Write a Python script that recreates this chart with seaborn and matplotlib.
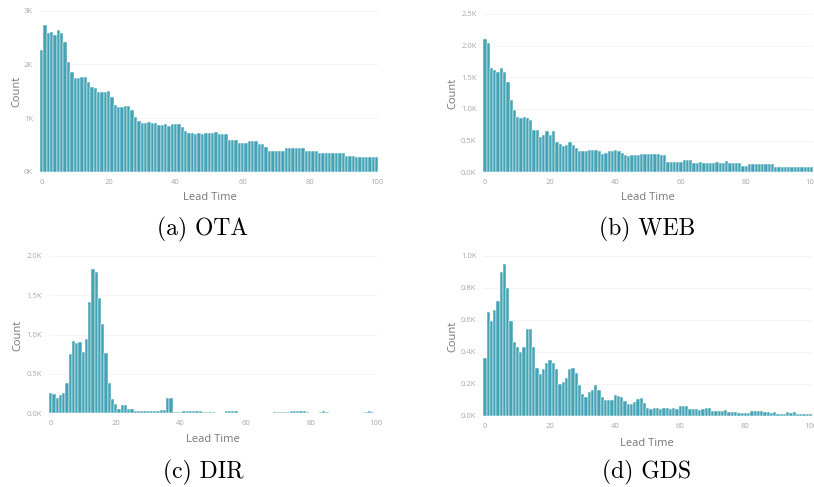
import matplotlib
matplotlib.use("Agg")
import matplotlib.pyplot as plt
import numpy as np
import pandas as pd
import seaborn as sns

# ---------------- data ----------------
lead_time = list(range(101))

ota = [2270, 2730, 2580, 2610, 2550, 2640, 2590, 2420, 2050, 1860,
       1740, 1740, 1760, 1760, 1680, 1570, 1560, 1490, 1490, 1490,
       1500, 1400, 1240, 1200, 1200, 1220, 1220, 1150, 1020, 950,
       910, 910, 920, 910, 900, 870, 870, 880, 860, 880,
       890, 880, 840, 760, 720, 720, 710, 720, 710, 720,
       720, 720, 745, 700, 700, 700, 590, 590, 590, 540,
       540, 528, 577, 580, 570, 516, 516, 466, 390, 390,
       390, 390, 391, 435, 435, 440, 435, 447, 447, 391,
       391, 391, 391, 342, 342, 342, 354, 354, 354, 354,
       354, 292, 292, 292, 268, 268, 268, 268, 280, 280, 280]

web = [2100, 2040, 1640, 1620, 1590, 1640, 1590, 1430, 1140, 980,
       870, 850, 880, 860, 830, 670, 670, 560, 590, 660,
       590, 660, 480, 450, 420, 430, 480, 430, 380, 330,
       330, 340, 360, 360, 360, 330, 290, 310, 330, 340,
       350, 330, 300, 270, 260, 270, 270, 280, 285, 290,
       290, 290, 285, 290, 280, 270, 170, 165, 170, 170,
       165, 190, 195, 190, 150, 150, 155, 150, 150, 150,
       150, 155, 150, 150, 178, 142, 142, 142, 142, 105,
       105, 126, 126, 126, 126, 126, 126, 126, 126, 90,
       90, 90, 90, 90, 90, 90, 90, 90, 90, 90, 90]

dir_ = [262, 250, 190, 230, 260, 390, 750, 920, 900, 910,
        780, 950, 1420, 1840, 1800, 1460, 1140, 770, 380, 180,
        120, 60, 100, 110, 50, 50, 35, 35, 30, 35,
        30, 30, 25, 30, 40, 40, 200, 200, 15, 20,
        20, 25, 30, 30, 30, 25, 25, 20, 20, 20,
        15, 10, 10, 10, 25, 30, 30, 25, 10, 10,
        8, 8, 8, 8, 8, 8, 10, 10, 10, 12,
        12, 12, 12, 12, 28, 28, 30, 28, 28, 20,
        10, 8, 8, 20, 25, 20, 8, 5, 5, 5,
        5, 5, 5, 5, 5, 5, 8, 22, 25, 20, 10]

gds = [360, 650, 590, 660, 720, 900, 950, 800, 590, 460,
       430, 400, 430, 540, 540, 430, 300, 260, 290, 330,
       350, 330, 290, 200, 210, 235, 290, 300, 270, 190,
       135, 120, 150, 160, 190, 160, 120, 100, 100, 100,
       130, 125, 120, 90, 75, 75, 88, 105, 110, 78,
       50, 45, 46, 48, 44, 46, 47, 45, 50, 45,
       62, 60, 58, 40, 42, 40, 38, 40, 46, 46,
       32, 30, 31, 30, 33, 25, 26, 24, 20, 19,
       20, 19, 29, 30, 28, 29, 21, 22, 20, 21,
       8, 8, 9, 21, 20, 22, 10, 10, 11, 10, 10]

xticks = [0, 20, 40, 60, 80, 100]
yticks_ota = [0, 1000, 2000, 3000]
ylabels_ota = ["0K", "1K", "2K", "3K"]
yticks_web = [0, 500, 1000, 1500, 2000, 2500]
ylabels_web = ["0.0K", "0.5K", "1.0K", "1.5K", "2.0K", "2.5K"]
yticks_dir = [0, 500, 1000, 1500, 2000]
ylabels_dir = ["0.0K", "0.5K", "1.0K", "1.5K", "2.0K"]
yticks_gds = [0, 200, 400, 600, 800, 1000]
ylabels_gds = ["0.0K", "0.2K", "0.4K", "0.6K", "0.8K", "1.0K"]
captions = ["(a) OTA", "(b) WEB", "(c) DIR", "(d) GDS"]

# ---------------- style ----------------
sns.set_theme(style="white")
plt.rcParams["font.family"] = ["Open Sans", "DejaVu Sans"]

W, H = 814, 487
fig = plt.figure(figsize=(W / 100, H / 100), dpi=100)
fig.patch.set_facecolor("white")

BAR = "#44a3b5"
TICK_C = "#a8a8a8"
LABEL_C = "#777777"


def add_ax(l, r, t, b):
    return fig.add_axes([l / W, 1 - b / H, (r - l) / W, (b - t) / H])


panels = [
    dict(vals=ota, yt=yticks_ota, yl=ylabels_ota, box=(40, 378.4, 10.7, 171.7),
         count=(17, 91), lead=(210, 197), cap=(203, 229)),
    dict(vals=web, yt=yticks_web, yl=ylabels_web, box=(483.4, 813.3, 14, 172.3),
         count=(453, 93), lead=(648, 197), cap=(647, 229)),
    dict(vals=dir_, yt=yticks_dir, yl=ylabels_dir, box=(49.1, 377.3, 256, 413.3),
         count=(18, 335), lead=(213, 440), cap=(203, 472)),
    dict(vals=gds, yt=yticks_gds, yl=ylabels_gds, box=(483.4, 812.1, 256, 415.7),
         count=(453, 336), lead=(647, 443), cap=(647, 472)),
]

for p, cap in zip(panels, captions):
    ax = add_ax(*p["box"])
    df = pd.DataFrame({"Lead Time": lead_time, "Count": p["vals"]})
    sns.histplot(data=df, x="Lead Time", weights="Count", discrete=True, ax=ax,
                 color=BAR, edgecolor="white", linewidth=0.35, alpha=1.0)
    ax.set_xlim(-0.5, 100.5)
    ax.set_ylim(0, p["yt"][-1])
    ax.set_xticks(xticks)
    ax.set_xticklabels([str(v) for v in xticks])
    ax.set_yticks(p["yt"])
    ax.set_yticklabels(p["yl"])
    ax.grid(axis="y", color="#f3f3f3", linewidth=0.6)
    ax.set_axisbelow(True)
    sns.despine(ax=ax, left=True, bottom=True)
    ax.tick_params(axis="both", length=0, labelsize=5.5, labelcolor=TICK_C)
    ax.tick_params(axis="x", pad=5)
    ax.tick_params(axis="y", pad=5)
    ax.set_xlabel("Lead Time", fontsize=8, color=LABEL_C)
    ax.set_ylabel("Count", fontsize=8, color=LABEL_C)
    ax.xaxis.set_label_coords(p["lead"][0] / W, 1 - p["lead"][1] / H,
                              transform=fig.transFigure)
    ax.yaxis.set_label_coords(p["count"][0] / W, 1 - p["count"][1] / H,
                              transform=fig.transFigure)
    ax.xaxis.label.set_va("center")
    ax.yaxis.label.set_va("center")
    fig.text(p["cap"][0] / W, 1 - p["cap"][1] / H, cap, ha="center", va="center",
             fontsize=17, family="cmr10", color="black")

fig.savefig("out.png", dpi=100, facecolor="white")
